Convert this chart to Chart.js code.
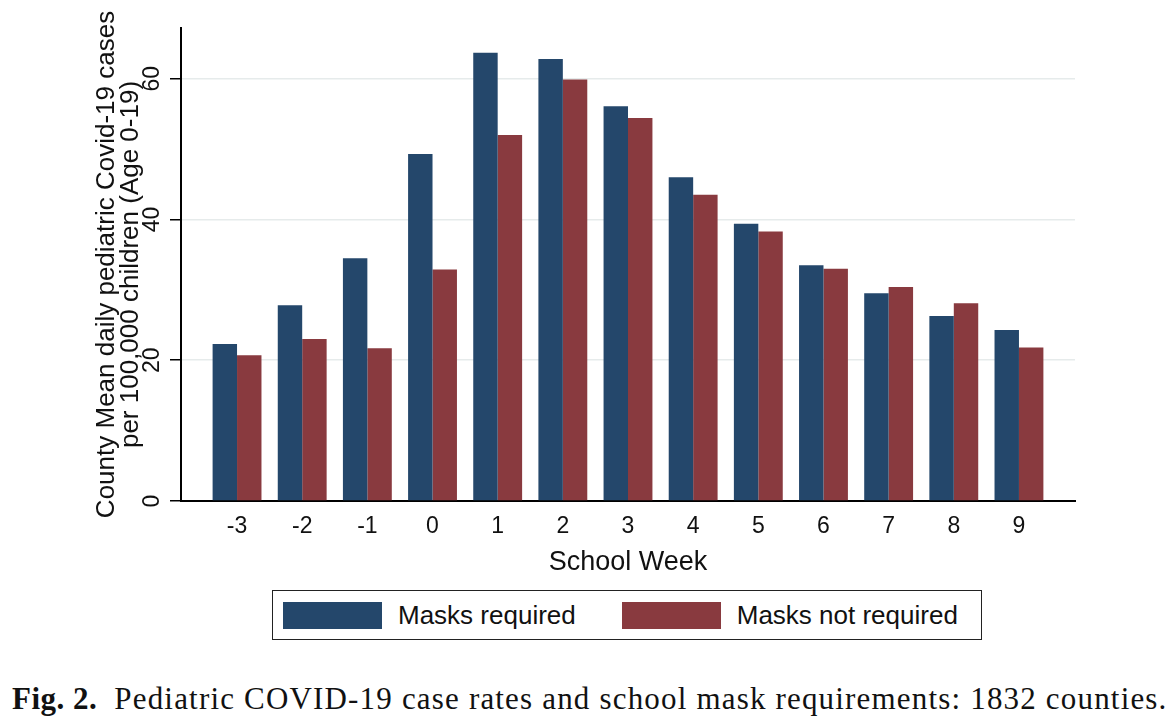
<!DOCTYPE html>
<html>
<head>
<meta charset="utf-8">
<title>Fig. 2</title>
<script src="https://cdn.jsdelivr.net/npm/chart.js@4.4.1/dist/chart.umd.min.js"></script>
<style>
  html, body { margin: 0; padding: 0; background: #fff; }
  #wrap { position: relative; width: 1172px; height: 726px; overflow: hidden; }
  #chart { position: absolute; left: 0; top: 0; }
  #legend {
    position: absolute; left: 272px; top: 590px; width: 708px; height: 48px;
    border: 1.5px solid #222; display: flex; align-items: center;
    font-family: "Liberation Sans", Arial, sans-serif; font-size: 26px; color: #111;
  }
  #legend .item { display: flex; align-items: center; }
  #legend .item + .item { margin-left: 46px; }
  #legend .swatch { display: inline-block; width: 99px; height: 27px; margin-right: 16px; }
  #legend .item:first-child { margin-left: 10px; }
  #caption {
    position: absolute; left: 12px; top: 681px; white-space: nowrap;
    font-family: "Liberation Serif", "Times New Roman", serif; font-size: 31px;
    letter-spacing: 1.18px; color: #111;
  }
  #caption b { margin-right: 17px; letter-spacing: 0.5px; }
</style>
</head>
<body>
<div id="wrap">
  <canvas id="chart" width="1172" height="582"></canvas>
  <div id="legend"></div>
  <div id="caption"><b>Fig. 2.</b>Pediatric COVID-19 case rates and school mask requirements: 1832 counties.</div>
</div>
<script>
// === Dados ===
const weeks = [-3, -2, -1, 0, 1, 2, 3, 4, 5, 6, 7, 8, 9];
const masksRequired    = [22.3, 27.8, 34.5, 49.3, 63.7, 62.8, 56.1, 46.0, 39.4, 33.5, 29.5, 26.3, 24.3];
const masksNotRequired = [20.7, 23.0, 21.7, 32.9, 52.0, 59.9, 54.4, 43.5, 38.3, 33.0, 30.4, 28.1, 21.8];
const yTicks = [0, 20, 40, 60];

const seriesNames = ['Masks required', 'Masks not required'];
const seriesColors = ['#24476b', '#893a3f'];

const yTitle = ['County Mean daily pediatric Covid-19 cases', 'per 100,000 children (Age 0-19)'];
const xTitle = 'School Week';

const sansFont = '"Liberation Sans", Arial, sans-serif';

// === Gráfico ===
const ctx = document.getElementById('chart').getContext('2d');
const chart = new Chart(ctx, {
  type: 'bar',
  data: {
    labels: weeks,
    datasets: [
      { label: seriesNames[0], data: masksRequired, backgroundColor: seriesColors[0] },
      { label: seriesNames[1], data: masksNotRequired, backgroundColor: seriesColors[1] }
    ]
  },
  options: {
    responsive: false,
    animation: false,
    devicePixelRatio: 1,
    categoryPercentage: 0.75,
    barPercentage: 1.0,
    layout: { padding: { left: 0, right: 97, top: 28, bottom: 3 } },
    plugins: {
      legend: { display: false },
      tooltip: { enabled: true }
    },
    scales: {
      x: {
        type: 'linear',
        offset: false,
        min: -3.86,
        max: 9.86,
        grid: { display: false },
        border: { display: true, color: '#000', width: 2 },
        afterBuildTicks: s => { s.ticks = weeks.map(v => ({ value: v })); },
        ticks: {
          color: '#111',
          font: { family: sansFont, size: 23 },
          padding: 4,
          autoSkip: false,
          maxRotation: 0
        },
        title: {
          display: true,
          text: xTitle,
          color: '#111',
          font: { family: sansFont, size: 27 },
          padding: { top: 2, bottom: 0 }
        }
      },
      y: {
        min: 0,
        max: 67.2,
        afterFit: s => { s.width = 181; },
        afterBuildTicks: s => { s.ticks = yTicks.map(v => ({ value: v })); },
        grid: {
          color: c => (c.tick && c.tick.value === 0) ? 'rgba(0,0,0,0)' : '#e6ebeb',
          lineWidth: 1.5,
          tickColor: '#000',
          tickLength: 11,
          tickWidth: 1.5
        },
        border: { display: true, color: '#000', width: 2 },
        ticks: {
          color: '#111',
          font: { family: sansFont, size: 23 },
          minRotation: 90,
          maxRotation: 90,
          crossAlign: 'center',
          padding: 5
        },
        title: {
          display: true,
          text: yTitle,
          color: '#111',
          font: { family: sansFont, size: 26, lineHeight: 0.95 },
          padding: { top: 94, bottom: 0 }
        }
      }
    }
  }
});

// === Legenda em HTML (caixa com borda, como no original) ===
function buildLegend(ch) {
  const box = document.getElementById('legend');
  box.innerHTML = '';
  ch.data.datasets.forEach(ds => {
    const item = document.createElement('div');
    item.className = 'item';
    const sw = document.createElement('span');
    sw.className = 'swatch';
    sw.style.background = ds.backgroundColor;
    const txt = document.createElement('span');
    txt.textContent = ds.label;
    item.appendChild(sw);
    item.appendChild(txt);
    box.appendChild(item);
  });
}
buildLegend(chart);
</script>
</body>
</html>
